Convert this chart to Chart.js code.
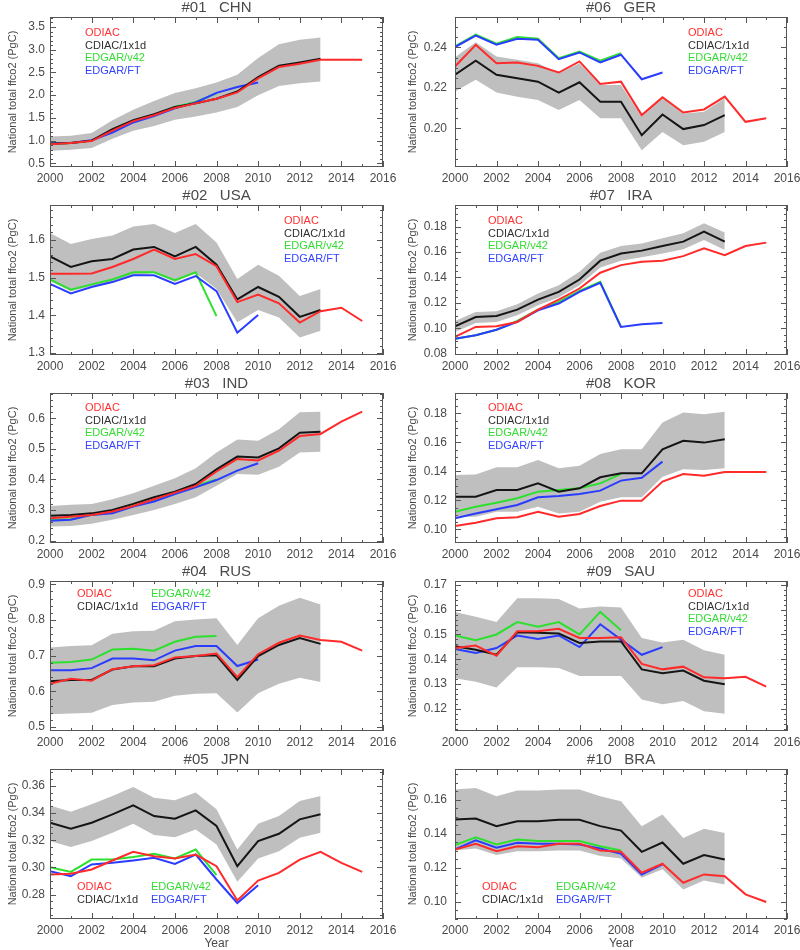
<!DOCTYPE html>
<html>
<head>
<meta charset="utf-8">
<script src="https://cdn.jsdelivr.net/npm/chart.js@4.4.0/dist/chart.umd.min.js"></script>
<style>
  body { margin: 0; background: #fff; }
  #wrap { position: relative; width: 800px; height: 950px; overflow: hidden; }
  canvas.panel { position: absolute; }
</style>
</head>
<body>
<div id="wrap"></div>
<script>
const years = [2000, 2001, 2002, 2003, 2004, 2005, 2006, 2007, 2008, 2009, 2010, 2011, 2012, 2013, 2014, 2015];
const xTicks = [2000, 2002, 2004, 2006, 2008, 2010, 2012, 2014, 2016];
const seriesNames = ['ODIAC', 'CDIAC/1x1d', 'EDGAR/v42', 'EDGAR/FT'];

// #01 CHN
const chnOdiac = [0.92, 0.95, 0.99, 1.22, 1.43, 1.56, 1.72, 1.82, 1.92, 2.06, 2.37, 2.62, 2.69, 2.78, 2.78, 2.78];
const chnCdiac = [0.93, 0.95, 1.00, 1.25, 1.45, 1.58, 1.74, 1.82, 1.92, 2.08, 2.40, 2.65, 2.72, 2.80];
const chnV42 = [0.93, 0.95, 1.00, 1.21, 1.42, 1.56, 1.74, 1.85, 2.04];
const chnFt = [0.94, 0.95, 1.01, 1.18, 1.40, 1.54, 1.71, 1.84, 2.05, 2.18, 2.28];
const chnUpper = [1.09, 1.11, 1.17, 1.45, 1.68, 1.87, 2.05, 2.15, 2.28, 2.45, 2.82, 3.12, 3.22, 3.27];
const chnLower = [0.78, 0.80, 0.84, 1.04, 1.22, 1.32, 1.46, 1.53, 1.62, 1.74, 2.00, 2.20, 2.26, 2.30];

// #06 GER
const gerOdiac = [0.2306, 0.2413, 0.2322, 0.2326, 0.2309, 0.2276, 0.2331, 0.2220, 0.2231, 0.2066, 0.2154, 0.2079, 0.2094, 0.2157, 0.2033, 0.2050];
const gerCdiac = [0.2265, 0.2334, 0.2265, 0.2248, 0.2231, 0.2177, 0.2228, 0.2132, 0.2132, 0.1967, 0.2069, 0.1997, 0.2017, 0.2066];
const gerV42 = [0.2405, 0.2463, 0.2418, 0.2451, 0.2443, 0.2347, 0.2380, 0.2334, 0.2372];
const gerFt = [0.2402, 0.2458, 0.2413, 0.2443, 0.2438, 0.2342, 0.2375, 0.2326, 0.2364, 0.2243, 0.2276];
const gerUpper = [0.2352, 0.2425, 0.2355, 0.2339, 0.2322, 0.2273, 0.2322, 0.2215, 0.2215, 0.2058, 0.2154, 0.2074, 0.2083, 0.2149];
const gerLower = [0.2182, 0.2240, 0.2177, 0.2157, 0.2140, 0.2091, 0.2140, 0.2050, 0.2050, 0.1893, 0.1983, 0.1917, 0.1934, 0.1983];

// #02 USA
const usaOdiac = [1.510, 1.510, 1.511, 1.528, 1.549, 1.574, 1.549, 1.562, 1.530, 1.435, 1.455, 1.432, 1.381, 1.411, 1.420, 1.385];
const usaCdiac = [1.556, 1.528, 1.543, 1.549, 1.574, 1.581, 1.556, 1.581, 1.534, 1.442, 1.475, 1.449, 1.396, 1.414];
const usaV42 = [1.495, 1.468, 1.482, 1.495, 1.514, 1.514, 1.493, 1.514, 1.398];
const usaFt = [1.483, 1.458, 1.475, 1.488, 1.506, 1.506, 1.483, 1.504, 1.464, 1.354, 1.401];
const usaUpper = [1.618, 1.589, 1.602, 1.611, 1.635, 1.642, 1.618, 1.642, 1.593, 1.496, 1.534, 1.505, 1.451, 1.470];
const usaLower = [1.490, 1.464, 1.477, 1.486, 1.505, 1.512, 1.488, 1.512, 1.470, 1.382, 1.414, 1.394, 1.341, 1.359];

// #07 IRA
const iraOdiac = [0.0932, 0.1011, 0.1016, 0.1050, 0.1147, 0.1226, 0.1313, 0.1437, 0.1497, 0.1524, 0.1532, 0.1568, 0.1629, 0.1576, 0.1647, 0.1674];
const iraCdiac = [0.1016, 0.1089, 0.1097, 0.1147, 0.1226, 0.1287, 0.1384, 0.1532, 0.1589, 0.1611, 0.1647, 0.1682, 0.1761, 0.1682];
const iraV42 = [0.0918, 0.0945, 0.0989, 0.1058, 0.1147, 0.1208, 0.1295, 0.1366, 0.1011];
const iraFt = [0.0918, 0.0945, 0.0989, 0.1050, 0.1142, 0.1195, 0.1287, 0.1358, 0.1011, 0.1032, 0.1042];
const iraUpper = [0.1058, 0.1129, 0.1134, 0.1189, 0.1274, 0.1339, 0.1445, 0.1595, 0.1647, 0.1668, 0.1708, 0.1747, 0.1826, 0.1753];
const iraLower = [0.0971, 0.1042, 0.1050, 0.1103, 0.1182, 0.1242, 0.1339, 0.1479, 0.1532, 0.1558, 0.1589, 0.1621, 0.1695, 0.1616];

// #03 IND
const indOdiac = [0.273, 0.278, 0.284, 0.295, 0.313, 0.335, 0.357, 0.379, 0.426, 0.467, 0.462, 0.494, 0.542, 0.549, 0.589, 0.622];
const indCdiac = [0.281, 0.284, 0.289, 0.300, 0.320, 0.342, 0.360, 0.385, 0.433, 0.475, 0.472, 0.502, 0.553, 0.556];
const indV42 = [0.268, 0.270, 0.284, 0.292, 0.313, 0.331, 0.353, 0.379, 0.400];
const indFt = [0.265, 0.268, 0.284, 0.289, 0.311, 0.328, 0.352, 0.374, 0.398, 0.429, 0.453];
const indUpper = [0.313, 0.317, 0.320, 0.335, 0.355, 0.379, 0.404, 0.437, 0.488, 0.531, 0.527, 0.564, 0.620, 0.622];
const indLower = [0.246, 0.248, 0.255, 0.268, 0.284, 0.300, 0.320, 0.342, 0.379, 0.418, 0.415, 0.442, 0.488, 0.491];

// #08 KOR
const korOdiac = [0.1023, 0.1046, 0.1076, 0.1083, 0.1122, 0.1087, 0.1106, 0.1161, 0.1198, 0.1198, 0.1329, 0.1382, 0.1370, 0.1395, 0.1395, 0.1395];
const korCdiac = [0.1225, 0.1225, 0.1271, 0.1271, 0.1317, 0.1260, 0.1283, 0.1359, 0.1386, 0.1386, 0.1552, 0.1611, 0.1598, 0.1621];
const korV42 = [0.1122, 0.1156, 0.1184, 0.1214, 0.1260, 0.1271, 0.1283, 0.1317, 0.1382];
const korFt = [0.1076, 0.1110, 0.1138, 0.1168, 0.1221, 0.1230, 0.1244, 0.1267, 0.1336, 0.1356, 0.1467];
const korUpper = [0.1375, 0.1379, 0.1428, 0.1428, 0.1478, 0.1421, 0.1439, 0.1520, 0.1552, 0.1552, 0.1736, 0.1805, 0.1793, 0.1811];
const korLower = [0.1087, 0.1087, 0.1122, 0.1122, 0.1156, 0.1110, 0.1122, 0.1191, 0.1221, 0.1221, 0.1363, 0.1414, 0.1409, 0.1421];

// #04 RUS
const rusOdiac = [0.621, 0.635, 0.630, 0.662, 0.670, 0.673, 0.695, 0.699, 0.706, 0.640, 0.704, 0.736, 0.756, 0.744, 0.739, 0.714];
const rusCdiac = [0.628, 0.632, 0.632, 0.661, 0.670, 0.670, 0.692, 0.699, 0.701, 0.632, 0.699, 0.730, 0.749, 0.733];
const rusV42 = [0.680, 0.682, 0.689, 0.717, 0.719, 0.714, 0.739, 0.753, 0.755];
const rusFt = [0.659, 0.659, 0.665, 0.692, 0.692, 0.687, 0.714, 0.727, 0.727, 0.671, 0.689];
const rusUpper = [0.723, 0.727, 0.729, 0.761, 0.768, 0.770, 0.796, 0.801, 0.805, 0.730, 0.805, 0.840, 0.862, 0.843];
const rusLower = [0.536, 0.538, 0.540, 0.562, 0.569, 0.571, 0.588, 0.593, 0.595, 0.541, 0.595, 0.621, 0.638, 0.626];

// #09 SAU
const sauOdiac = [0.1445, 0.1455, 0.1414, 0.1513, 0.1513, 0.1523, 0.1486, 0.1486, 0.1489, 0.1381, 0.1359, 0.1370, 0.1327, 0.1323, 0.1329, 0.1289];
const sauCdiac = [0.1452, 0.1438, 0.1418, 0.1509, 0.1507, 0.1504, 0.1466, 0.1472, 0.1472, 0.1359, 0.1343, 0.1354, 0.1313, 0.1299];
const sauV42 = [0.1496, 0.1477, 0.1500, 0.1550, 0.1531, 0.1550, 0.1500, 0.1591, 0.1517];
const sauFt = [0.1441, 0.1425, 0.1445, 0.1496, 0.1482, 0.1496, 0.1449, 0.1541, 0.1479, 0.1418, 0.1449];
const sauUpper = [0.1591, 0.1572, 0.1550, 0.1646, 0.1646, 0.1643, 0.1605, 0.1613, 0.1609, 0.1486, 0.1468, 0.1479, 0.1436, 0.1418];
const sauLower = [0.1323, 0.1309, 0.1286, 0.1368, 0.1368, 0.1365, 0.1332, 0.1332, 0.1332, 0.1237, 0.1218, 0.1231, 0.1190, 0.1180];

// #05 JPN
const jpnOdiac = [0.2948, 0.2953, 0.2985, 0.3051, 0.3115, 0.3083, 0.3066, 0.3095, 0.3009, 0.2756, 0.2903, 0.2960, 0.3058, 0.3115, 0.3034, 0.2967];
const jpnCdiac = [0.3329, 0.3285, 0.3329, 0.3391, 0.3457, 0.3378, 0.3359, 0.3420, 0.3305, 0.3009, 0.3194, 0.3248, 0.3354, 0.3391];
const jpnV42 = [0.3002, 0.2967, 0.3058, 0.3058, 0.3076, 0.3100, 0.3066, 0.3132, 0.2943];
const jpnFt = [0.2972, 0.2935, 0.3022, 0.3034, 0.3051, 0.3071, 0.3026, 0.3095, 0.2911, 0.2738, 0.2869];
const jpnUpper = [0.3457, 0.3410, 0.3465, 0.3526, 0.3593, 0.3514, 0.3494, 0.3551, 0.3428, 0.3132, 0.3322, 0.3378, 0.3489, 0.3526];
const jpnLower = [0.3194, 0.3150, 0.3194, 0.3255, 0.3322, 0.3238, 0.3223, 0.3280, 0.3169, 0.2894, 0.3066, 0.3120, 0.3218, 0.3255];

// #10 BRA
const braOdiac = [0.1307, 0.1340, 0.1297, 0.1326, 0.1320, 0.1340, 0.1340, 0.1301, 0.1293, 0.1170, 0.1223, 0.1111, 0.1160, 0.1150, 0.1043, 0.0998];
const braCdiac = [0.1483, 0.1489, 0.1444, 0.1473, 0.1473, 0.1481, 0.1481, 0.1444, 0.1418, 0.1293, 0.1348, 0.1223, 0.1274, 0.1248];
const braV42 = [0.1332, 0.1379, 0.1336, 0.1365, 0.1356, 0.1356, 0.1356, 0.1326, 0.1301];
const braFt = [0.1307, 0.1360, 0.1317, 0.1346, 0.1340, 0.1340, 0.1336, 0.1313, 0.1281, 0.1160, 0.1219];
const braUpper = [0.1659, 0.1668, 0.1620, 0.1653, 0.1653, 0.1659, 0.1659, 0.1620, 0.1590, 0.1444, 0.1512, 0.1375, 0.1428, 0.1404];
const braLower = [0.1301, 0.1313, 0.1274, 0.1297, 0.1297, 0.1301, 0.1301, 0.1268, 0.1254, 0.1141, 0.1190, 0.1072, 0.1125, 0.1101];

const FONT = '"Liberation Sans", Arial, sans-serif';
const TEXT = '#4a4a4a';
const COLORS = ['#ff2a2a', '#151515', '#2ee02e', '#2a3cff'];
const LEGEND_COLORS = ['#ff3030', '#303030', '#33dd33', '#3344ff'];
const BAND = '#bfbfbf';

// panel layout: col/row in grid, y range, tick step, minor subdivisions, legend placement
const panels = [
  { title: '#01   CHN', col: 0, row: 0, y: [0.42, 3.72], step: 0.5, minor: 5, dec: 1, legend: { x: 35, y: 16, two: false },
    data: [chnOdiac, chnCdiac, chnV42, chnFt, chnUpper, chnLower] },
  { title: '#06   GER', col: 1, row: 0, y: [0.181, 0.255], step: 0.02, minor: 4, dec: 2, legend: { x: 233, y: 16, two: false },
    data: [gerOdiac, gerCdiac, gerV42, gerFt, gerUpper, gerLower] },
  { title: '#02   USA', col: 0, row: 1, y: [1.295, 1.692], step: 0.1, minor: 5, dec: 1, legend: { x: 234, y: 16, two: false },
    data: [usaOdiac, usaCdiac, usaV42, usaFt, usaUpper, usaLower] },
  { title: '#07   IRA', col: 1, row: 1, y: [0.079, 0.197], step: 0.02, minor: 4, dec: 2, legend: { x: 33, y: 16, two: false },
    data: [iraOdiac, iraCdiac, iraV42, iraFt, iraUpper, iraLower] },
  { title: '#03   IND', col: 0, row: 2, y: [0.192, 0.683], step: 0.1, minor: 5, dec: 1, legend: { x: 35, y: 15, two: false },
    data: [indOdiac, indCdiac, indV42, indFt, indUpper, indLower] },
  { title: '#08   KOR', col: 1, row: 2, y: [0.0906, 0.194], step: 0.02, minor: 4, dec: 2, legend: { x: 33, y: 15, two: false },
    data: [korOdiac, korCdiac, korV42, korFt, korUpper, korLower] },
  { title: '#04   RUS', col: 0, row: 3, y: [0.489, 0.909], step: 0.1, minor: 5, dec: 1, legend: { x: 27, y: 13, two: true },
    data: [rusOdiac, rusCdiac, rusV42, rusFt, rusUpper, rusLower] },
  { title: '#09   SAU', col: 1, row: 3, y: [0.111, 0.1716], step: 0.01, minor: 5, dec: 2, legend: { x: 233, y: 13, two: false },
    data: [sauOdiac, sauCdiac, sauV42, sauFt, sauUpper, sauLower] },
  { title: '#05   JPN', col: 0, row: 4, y: [0.262, 0.3725], step: 0.02, minor: 4, dec: 2, legend: { x: 27, y: 118, two: true },
    data: [jpnOdiac, jpnCdiac, jpnV42, jpnFt, jpnUpper, jpnLower] },
  { title: '#10   BRA', col: 1, row: 4, y: [0.0898, 0.178], step: 0.02, minor: 4, dec: 2, legend: { x: 27, y: 118, two: true },
    data: [braOdiac, braCdiac, braV42, braFt, braUpper, braLower] }
];

function points(vals) {
  return vals.map((v, i) => ({ x: years[i], y: v }));
}

// frame box, inward ticks, panel title and in-plot legend
const framePlugin = {
  id: 'frame',
  afterDraw(chart, args, opts) {
    const { ctx, chartArea: a, scales: { x, y } } = chart;
    ctx.save();
    ctx.strokeStyle = '#555';
    ctx.lineWidth = 1;
    ctx.strokeRect(Math.round(a.left) + 0.5, Math.round(a.top) + 0.5, Math.round(a.width) - 1, Math.round(a.height) - 1);
    ctx.beginPath();
    for (let v = x.min; v <= x.max; v++) {
      const px = Math.round(x.getPixelForValue(v)) + 0.5;
      const len = (v % 2 === 0) ? 6 : 3;
      ctx.moveTo(px, a.bottom); ctx.lineTo(px, a.bottom - len);
      ctx.moveTo(px, a.top); ctx.lineTo(px, a.top + len);
    }
    const ms = opts.step / opts.minor;
    for (let k = Math.ceil(y.min / ms - 1e-6); k * ms <= y.max + 1e-9; k++) {
      const py = Math.round(y.getPixelForValue(k * ms)) + 0.5;
      const len = (k % opts.minor === 0) ? 6 : 3;
      ctx.moveTo(a.left, py); ctx.lineTo(a.left + len, py);
      ctx.moveTo(a.right, py); ctx.lineTo(a.right - len, py);
    }
    ctx.stroke();

    ctx.fillStyle = TEXT;
    ctx.font = '15px ' + FONT;
    ctx.textAlign = 'center';
    ctx.textBaseline = 'middle';
    ctx.fillText(opts.title, (a.left + a.right) / 2, a.top - 9);

    ctx.font = '11px ' + FONT;
    ctx.textAlign = 'left';
    const lg = opts.legend;
    seriesNames.forEach((name, i) => {
      let lx = a.left + lg.x, ly = a.top + lg.y;
      if (lg.two) {
        lx += (i >= 2 ? 74 : 0);
        ly += (i % 2) * 12.7;
      } else {
        ly += i * 12.5;
      }
      ctx.fillStyle = LEGEND_COLORS[i];
      ctx.fillText(name, lx, ly);
    });
    ctx.restore();
  }
};

const wrap = document.getElementById('wrap');

panels.forEach(p => {
  const last = p.row === 4;
  const h = last ? 198 : 189;
  const cv = document.createElement('canvas');
  cv.className = 'panel';
  cv.width = 400;
  cv.height = h;
  cv.style.left = (p.col * 400) + 'px';
  cv.style.top = (p.row * 188) + 'px';
  wrap.appendChild(cv);

  const axisW = p.col === 0 ? 50 : 55;
  const padR = p.col === 0 ? 17 : 13;

  const lines = p.data.slice(0, 4).map((vals, i) => ({
    data: points(vals),
    borderColor: COLORS[i],
    borderWidth: 2,
    pointRadius: 0,
    fill: false,
    order: [1, 2, 4, 3][i]
  }));
  const band = [
    { data: points(p.data[4]), borderWidth: 0, pointRadius: 0, backgroundColor: BAND, fill: '+1', order: 10 },
    { data: points(p.data[5]), borderWidth: 0, pointRadius: 0, fill: false, order: 11 }
  ];

  new Chart(cv, {
    type: 'line',
    data: { datasets: lines.concat(band) },
    options: {
      responsive: false,
      animation: false,
      layout: { padding: { top: 17, right: padR, left: 0, bottom: 0 } },
      plugins: {
        legend: { display: false },
        tooltip: { enabled: false },
        frame: { title: p.title, step: p.step, minor: p.minor, legend: p.legend }
      },
      scales: {
        x: {
          type: 'linear', min: 2000, max: 2016,
          grid: { display: false, drawTicks: false },
          border: { display: false },
          afterBuildTicks: s => { s.ticks = xTicks.map(v => ({ value: v })); },
          ticks: { color: TEXT, font: { family: FONT, size: 12 }, padding: 4, maxRotation: 0, autoSkip: false,
                   callback: v => String(v) },
          title: { display: last, text: 'Year', color: TEXT, font: { family: FONT, size: 12, lineHeight: 1 }, padding: 0 },
          afterFit: s => { s.height = h - 167; s.paddingLeft = 0; s.paddingRight = 0; }
        },
        y: {
          type: 'linear', min: p.y[0], max: p.y[1],
          grid: { display: false, drawTicks: false },
          border: { display: false },
          ticks: { stepSize: p.step, includeBounds: false, color: TEXT, font: { family: FONT, size: 12 },
                   padding: p.col === 0 ? 5 : 8, callback: v => v.toFixed(p.dec) },
          title: { display: true, text: 'National total ffco2 (PgC)', color: TEXT,
                   font: { family: FONT, size: 11 }, padding: { top: 6, bottom: 0 } },
          afterFit: s => { s.width = axisW; s.paddingTop = 0; s.paddingBottom = 0; }
        }
      }
    },
    plugins: [framePlugin]
  });
});
</script>
</body>
</html>
